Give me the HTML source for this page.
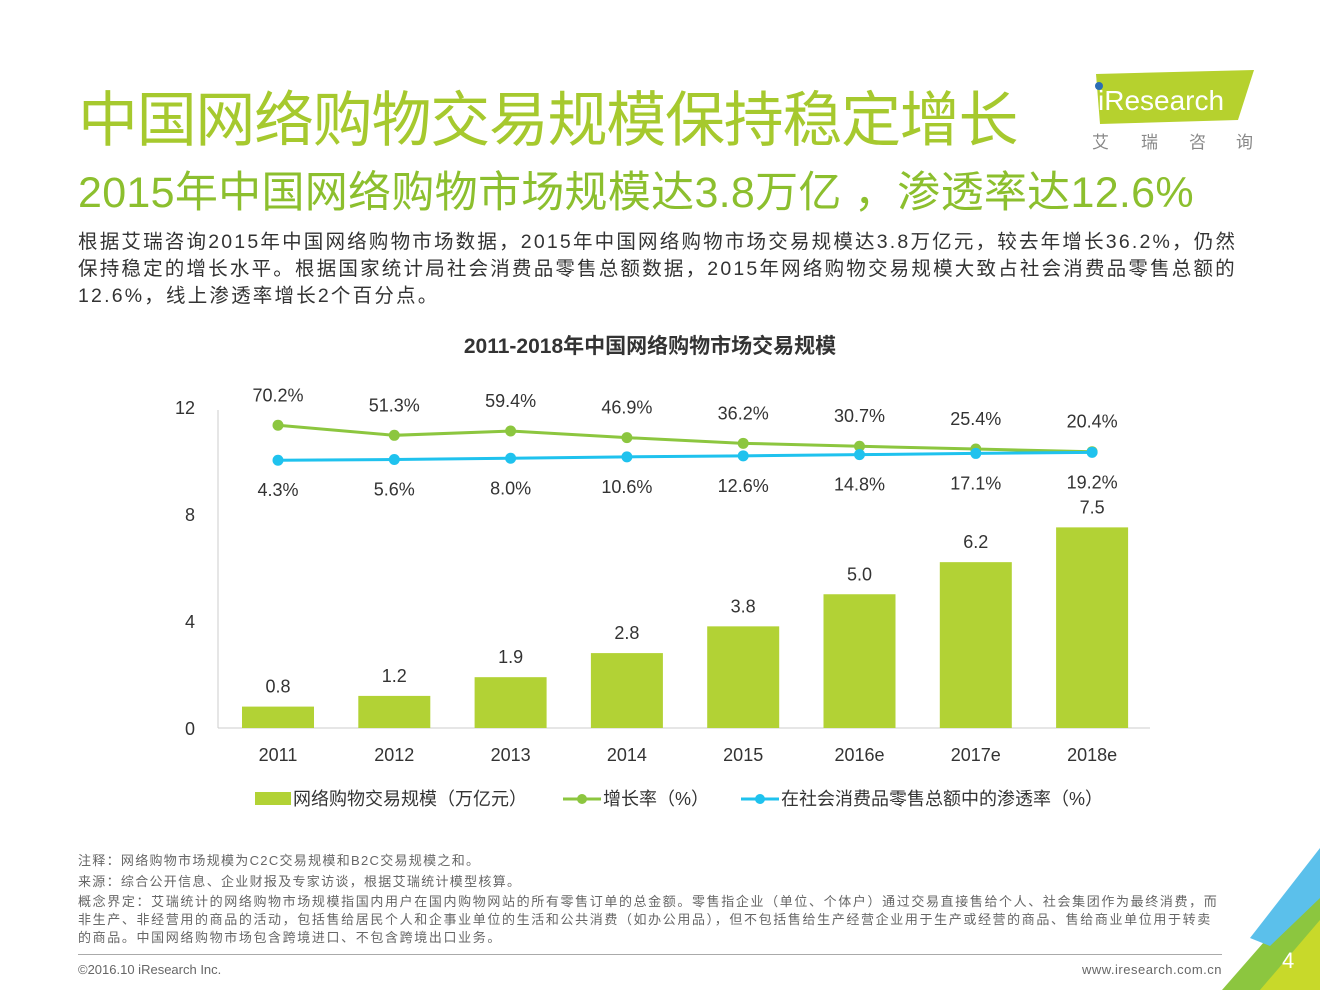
<!DOCTYPE html>
<html><head><meta charset="utf-8"><style>
body{margin:0;background:#fff;}
#page{position:relative;width:1320px;height:990px;overflow:hidden;font-family:"Liberation Sans","Noto Sans CJK SC",sans-serif;}
.t{position:absolute;white-space:nowrap;}
</style></head><body>
<div id="page">
<div class="t" style="left:78px;top:72px;font-size:60px;color:#a6c92e;letter-spacing:-1.3px;">中国网络购物交易规模保持稳定增长</div>
<div class="t" style="left:78px;top:158px;font-size:43px;color:#8cbf2e;letter-spacing:0.3px;">2015年中国网络购物市场规模达3.8万亿 ，渗透率达12.6%</div>
<svg style="position:absolute;left:1088px;top:68px" width="180" height="90">
<polygon points="8,6 166,2 150,52 12,56" fill="#b6d12e"/>
<circle cx="11" cy="18" r="4" fill="#2b6db5"/>
<text x="10" y="42" font-size="28" fill="#fff" font-family="Liberation Sans">iResearch</text>
<text x="4" y="80" font-size="17" fill="#888" font-family="Noto Sans CJK SC">艾</text>
<text x="53" y="80" font-size="17" fill="#888" font-family="Noto Sans CJK SC">瑞</text>
<text x="101" y="80" font-size="17" fill="#888" font-family="Noto Sans CJK SC">咨</text>
<text x="148" y="80" font-size="17" fill="#888" font-family="Noto Sans CJK SC">询</text>
</svg>
<div class="t" style="left:78px;top:229px;font-size:19.5px;line-height:27px;color:#333;letter-spacing:2.2px;">根据艾瑞咨询2015年中国网络购物市场数据，2015年中国网络购物市场交易规模达3.8万亿元，较去年增长36.2%，仍然<br>保持稳定的增长水平。根据国家统计局社会消费品零售总额数据，2015年网络购物交易规模大致占社会消费品零售总额的<br>12.6%，线上渗透率增长2个百分点。</div>
<div class="t" style="left:0;width:1300px;text-align:center;top:330px;font-size:21px;font-weight:bold;color:#333;">2011-2018年中国网络购物市场交易规模</div>
<svg id="chart" style="position:absolute;left:0;top:0" width="1320" height="840" font-family="Liberation Sans" font-size="18"></svg>
<div class="t" style="left:78px;top:850px;font-size:13px;color:#666;line-height:21px;letter-spacing:1.3px;">注释：网络购物市场规模为C2C交易规模和B2C交易规模之和。<br>来源：综合公开信息、企业财报及专家访谈，根据艾瑞统计模型核算。</div>
<div class="t" style="left:78px;top:893px;font-size:13px;color:#666;line-height:18px;letter-spacing:1.62px;">概念界定：艾瑞统计的网络购物市场规模指国内用户在国内购物网站的所有零售订单的总金额。零售指企业（单位、个体户）通过交易直接售给个人、社会集团作为最终消费，而<br>非生产、非经营用的商品的活动，包括售给居民个人和企事业单位的生活和公共消费（如办公用品），但不包括售给生产经营企业用于生产或经营的商品、售给商业单位用于转卖<br>的商品。中国网络购物市场包含跨境进口、不包含跨境出口业务。</div>
<div style="position:absolute;left:78px;top:954px;width:1144px;height:1px;background:#aaa"></div>
<div class="t" style="left:78px;top:962px;font-size:13px;color:#666;">©2016.10 iResearch Inc.</div>
<div class="t" style="right:98px;top:962px;font-size:13px;color:#666;letter-spacing:0.5px;">www.iresearch.com.cn</div>
<svg style="position:absolute;left:1200px;top:840px" width="120" height="150">
<polygon points="22,150 120,38 120,150" fill="#8cc63f"/>
<polygon points="50,98 120,8 120,58 70,106" fill="#5bc0eb"/>
<polygon points="60,150 120,80 120,150" fill="#c8d92a"/>
<text x="82" y="128" font-size="22" fill="#fff" font-family="Liberation Sans">4</text>
</svg>
</div>
<script>
const years=["2011","2012","2013","2014","2015","2016e","2017e","2018e"];
const scale=[0.8,1.2,1.9,2.8,3.8,5.0,6.2,7.5];
const growth=[70.2,51.3,59.4,46.9,36.2,30.7,25.4,20.4];
const penetration=[4.3,5.6,8.0,10.6,12.6,14.8,17.1,19.2];
const yTicks=[0,4,8,12];
const NS="http://www.w3.org/2000/svg";
const svg=document.getElementById('chart');
const y0=728, pu=26.75;
const yL=v=>y0-v*pu;
const yR=v=>462.5-0.53*v;
const xC=i=>278+i*116.3;
function mk(tag,a,txt){const e=document.createElementNS(NS,tag);for(const k in a)e.setAttribute(k,a[k]);if(txt!==undefined)e.textContent=txt;svg.appendChild(e);return e;}
let e=mk('line',{x1:218,y1:410,x2:218,y2:728,stroke:'#ccc'});


e=mk('line',{x1:218,y1:728,x2:1150,y2:728,stroke:'#ccc'});


yTicks.forEach(v=>{const t=mk('text',{x:195,y:yL(v)+7,'text-anchor':'end',fill:'#333'},v);

});
years.forEach((y,i)=>{
 const b=mk('rect',{x:xC(i)-36,y:yL(scale[i]),width:72,height:scale[i]*pu,fill:'#b2d235'});
 
 
 const l=mk('text',{x:xC(i),y:yL(scale[i])-14,'text-anchor':'middle',fill:'#333'},scale[i].toFixed(1));
 
 
 const xl=mk('text',{x:xC(i),y:761,'text-anchor':'middle',fill:'#333'},y);
 
 
});
function line(vals,color,name,off){
 const p=mk('polyline',{points:vals.map((v,i)=>xC(i)+','+yR(v)).join(' '),fill:'none',stroke:color,'stroke-width':3});
 
 
 vals.forEach((v,i)=>{
  const c=mk('circle',{cx:xC(i),cy:yR(v),r:5.5,fill:color});
  
  
  const t=mk('text',{x:xC(i),y:yR(v)+off,'text-anchor':'middle',fill:'#333'},v.toFixed(1)+'%');
  
  
 });
}
line(growth,'#8cc63f','growth',-24);
line(penetration,'#1fc2ee','penetration',36);
const lg=[[255,'rect','#b2d235','网络购物交易规模（万亿元）'],[563,'line','#8cc63f','增长率（%）'],[741,'line','#1fc2ee','在社会消费品零售总额中的渗透率（%）']];
lg.forEach(d=>{
 if(d[1]=='rect'){const r=mk('rect',{x:d[0],y:792,width:36,height:13,fill:d[2]});
  
  }
 else{const l=mk('line',{x1:d[0],y1:799,x2:d[0]+38,y2:799,stroke:d[2],'stroke-width':3});
  
  
  const c=mk('circle',{cx:d[0]+19,cy:799,r:5,fill:d[2]});
  
  }
 const t=mk('text',{x:d[0]+(d[1]=='rect'?38:40),y:805,fill:'#333','font-family':'Liberation Sans, Noto Sans CJK SC, sans-serif'},d[3]);
 
 
});
</script>
</body></html>
